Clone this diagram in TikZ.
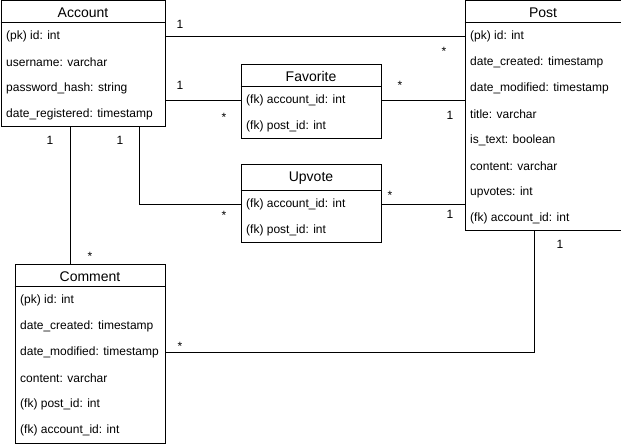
\documentclass[tikz,border=0pt]{standalone}
\usepackage{fontspec}
\setmainfont{Liberation Sans}
\usetikzlibrary{positioning}
\tikzset{
  classbox/.style = {draw=black, line width=1pt, anchor=north west,
    inner sep=0pt},
  class_name/.style = {font=\fontsize{14}{16}\selectfont, inner sep=0pt,
    yshift=-1pt},
  field/.style = {font=\fontsize{12}{14}\selectfont, anchor=west,
    inner sep=0pt, yshift=-1.5pt},
  mult/.style = {font=\fontsize{12}{14}\selectfont, inner sep=0pt},
  link/.style = {draw=black, line width=1pt},
}

\begin{document}
\begin{tikzpicture}[x=1pt,y=-1pt]
  \useasboundingbox (0,0) rectangle (621,446);

  % Account
  \node [classbox, minimum width=164pt, minimum height=126pt] (account) at (0.5,0.5) {};
  \draw [link] ([yshift=-22pt]account.north west) -- ([yshift=-22pt]account.north east);
  \node [class_name] (account_name) at ([yshift=-11pt]account.north) {Account};
  \node [field] (acc1) at (6,35) {(pk) id: int};
  \node [field] (acc2) at (6,61) {username: varchar};
  \node [field] (acc3) at (6,87) {password\_hash: string};
  \node [field] (acc4) at (6,113) {date\_registered: timestamp};

  % Post
  \node [classbox, minimum width=156pt, minimum height=230pt] (post) at (464.5,0.5) {};
  \draw [link] ([yshift=-22pt]post.north west) -- ([yshift=-22pt]post.north east);
  \node [class_name] (post_name) at ([yshift=-11pt]post.north) {Post};
  \node [field] (post1) at (470,35) {(pk) id: int};
  \node [field] (post2) at (470,61) {date\_created: timestamp};
  \node [field] (post3) at (470,87) {date\_modified: timestamp};
  \node [field] (post4) at (470,113) {title: varchar};
  \node [field] (post5) at (470,139) {is\_text: boolean};
  \node [field] (post6) at (470,165) {content: varchar};
  \node [field] (post7) at (470,191) {upvotes: int};
  \node [field] (post8) at (470,217) {(fk) account\_id: int};

  % Favorite
  \node [classbox, minimum width=140pt, minimum height=74pt] (favorite) at (240.5,64.5) {};
  \draw [link] ([yshift=-22pt]favorite.north west) -- ([yshift=-22pt]favorite.north east);
  \node [class_name] (favorite_name) at ([yshift=-11pt]favorite.north) {Favorite};
  \node [field] (fav1) at (246,99) {(fk) account\_id: int};
  \node [field] (fav2) at (246,125) {(fk) post\_id: int};

  % Upvote
  \node [classbox, minimum width=140pt, minimum height=78pt] (upvote) at (240.5,164.5) {};
  \draw [link] ([yshift=-26pt]upvote.north west) -- ([yshift=-26pt]upvote.north east);
  \node [class_name] (upvote_name) at ([yshift=-13pt]upvote.north) {Upvote};
  \node [field] (up1) at (246,203) {(fk) account\_id: int};
  \node [field] (up2) at (246,229) {(fk) post\_id: int};

  % Comment
  \node [classbox, minimum width=150pt, minimum height=178pt] (comment) at (14.5,264.5) {};
  \draw [link] ([yshift=-22pt]comment.north west) -- ([yshift=-22pt]comment.north east);
  \node [class_name] (comment_name) at ([yshift=-11pt]comment.north) {Comment};
  \node [field] (com1) at (20,299) {(pk) id: int};
  \node [field] (com2) at (20,325) {date\_created: timestamp};
  \node [field] (com3) at (20,351) {date\_modified: timestamp};
  \node [field] (com4) at (20,377) {content: varchar};
  \node [field] (com5) at (20,403) {(fk) post\_id: int};
  \node [field] (com6) at (20,429) {(fk) account\_id: int};

  % connectors
  \coordinate (acc_up) at (139.5,126.5);
  \coordinate (acc_com) at (70.5,126.5);
  \coordinate (post_com) at (534.5,230.5);
  \draw [link] (account.east |- post1.west) -- (post.west |- post1.west);
  \draw [link] (account.east |- fav1.west) -- (favorite.west |- fav1.west);
  \draw [link] (favorite.east |- fav1.west) -- (post.west |- fav1.west);
  \draw [link] (acc_up) |- (upvote.west |- up1.west);
  \draw [link] (upvote.east |- up1.west) -- (post.west |- up1.west);
  \draw [link] (acc_com) -- (acc_com |- comment.north);
  \draw [link] (comment.east |- com3.west) -| (post_com);

  % multiplicities
  \node [mult] (m1) at (180,24) {1};
  \node [mult] (m2) at (444,51) {*};
  \node [mult] (m3) at (180,85) {1};
  \node [mult] (m4) at (224,117) {*};
  \node [mult] (m5) at (400,85) {*};
  \node [mult] (m6) at (450,115) {1};
  \node [mult] (m7) at (120,140) {1};
  \node [mult] (m8) at (224,215) {*};
  \node [mult] (m9) at (390,195) {*};
  \node [mult] (m10) at (450,214) {1};
  \node [mult] (m11) at (50,140) {1};
  \node [mult] (m12) at (90,256) {*};
  \node [mult] (m13) at (180,346) {*};
  \node [mult] (m14) at (560,244) {1};
\end{tikzpicture}
\end{document}
